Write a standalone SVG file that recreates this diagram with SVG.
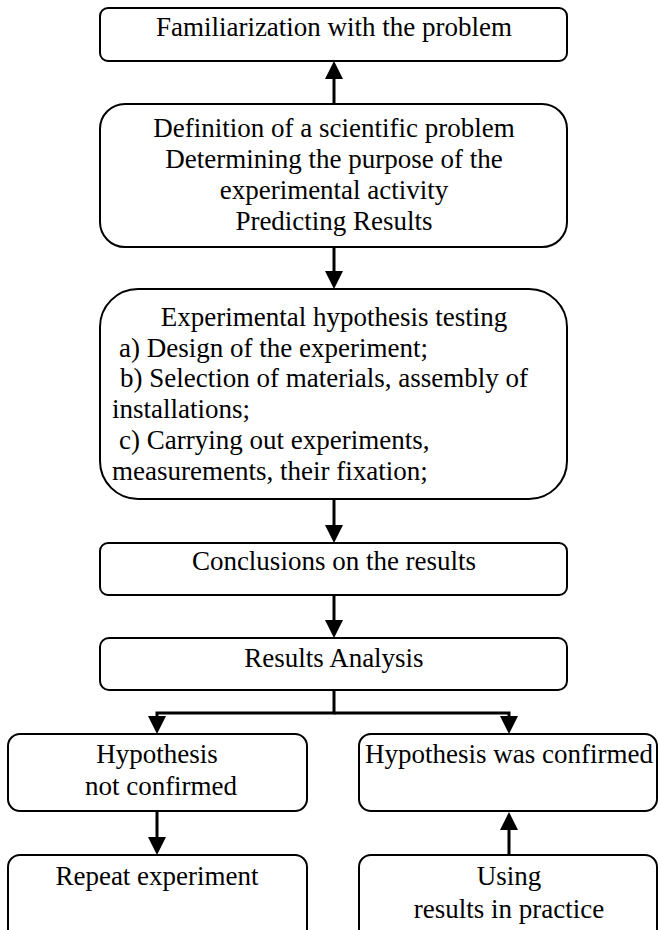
<svg xmlns="http://www.w3.org/2000/svg" width="658" height="930" viewBox="0 0 658 930">
<defs>
<style>
.box{fill:#fff;stroke:#000;stroke-width:2}
text{font-family:"Liberation Serif","Times New Roman",serif;font-size:27px;fill:#000}
.c{text-anchor:middle}
.conn{fill:none;stroke:#000;stroke-width:3}
</style>
<marker id="ah" markerUnits="userSpaceOnUse" markerWidth="18" markerHeight="18" refX="2" refY="9" orient="auto">
<path d="M0,0 L18,9 L0,18 z" fill="#000"/>
</marker>
</defs>
<rect width="658" height="930" fill="#fff"/>
<g id="connectors">
<path class="conn" d="M334,104 V77" marker-end="url(#ah)"/>
<path class="conn" d="M334,247 V273" marker-end="url(#ah)"/>
<path class="conn" d="M334,499 V527" marker-end="url(#ah)"/>
<path class="conn" d="M334,595 V622" marker-end="url(#ah)"/>
<path class="conn" d="M334,690 V713 H157 V718" marker-end="url(#ah)"/>
<path class="conn" d="M334,713 H509 V718" marker-end="url(#ah)"/>
<path class="conn" d="M157,811 V839" marker-end="url(#ah)"/>
<path class="conn" d="M509,855 V828" marker-end="url(#ah)"/>
</g>
<g id="n1">
<rect class="box" x="100" y="8" width="467" height="53" rx="8"/>
<text class="c" x="334" y="36">Familiarization with the problem</text>
</g>
<g id="n2">
<rect class="box" x="100" y="104" width="467" height="143" rx="25"/>
<text class="c" x="334" y="137">Definition of a scientific problem</text>
<text class="c" x="334" y="168">Determining the purpose of the</text>
<text class="c" x="334" y="199">experimental activity</text>
<text class="c" x="334" y="230">Predicting Results</text>
</g>
<g id="n3">
<rect class="box" x="100" y="289" width="467" height="210" rx="38"/>
<text class="c" x="334" y="326">Experimental hypothesis testing</text>
<text x="119" y="357">a) Design of the experiment;</text>
<text x="120" y="387">b) Selection of materials, assembly of</text>
<text x="112" y="418">installations;</text>
<text x="119" y="449">c) Carrying out experiments,</text>
<text x="112" y="480">measurements, their fixation;</text>
</g>
<g id="n4">
<rect class="box" x="100" y="543" width="467" height="52" rx="8"/>
<text class="c" x="334" y="570">Conclusions on the results</text>
</g>
<g id="n5">
<rect class="box" x="100" y="638" width="467" height="52" rx="9"/>
<text class="c" x="334" y="667">Results Analysis</text>
</g>
<g id="n6">
<rect class="box" x="8" y="734" width="299" height="77" rx="12"/>
<text class="c" x="157" y="763">Hypothesis</text>
<text class="c" x="161" y="795">not confirmed</text>
</g>
<g id="n7">
<rect class="box" x="359" y="734" width="298" height="77" rx="12"/>
<text class="c" x="509" y="763">Hypothesis was confirmed</text>
</g>
<g id="n8">
<rect class="box" x="8" y="855" width="299" height="90" rx="12"/>
<text class="c" x="157" y="885">Repeat experiment</text>
</g>
<g id="n9">
<rect class="box" x="359" y="855" width="298" height="90" rx="12"/>
<text class="c" x="509" y="885">Using</text>
<text class="c" x="509" y="918">results in practice</text>
</g>
</svg>
